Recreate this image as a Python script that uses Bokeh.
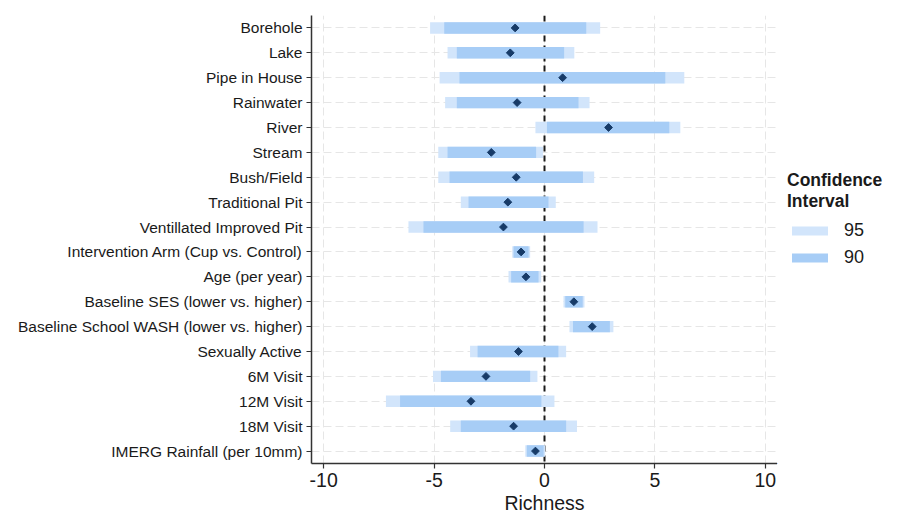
import math
from bokeh.plotting import figure
from bokeh.layouts import row
from bokeh.models import (FactorRange, Range1d, Span, Legend, LegendItem, FixedTicker,
                          ColumnDataSource)
from bokeh.embed import file_html
from bokeh.resources import INLINE

labels = ["Borehole", "Lake", "Pipe in House", "Rainwater", "River", "Stream",
          "Bush/Field", "Traditional Pit", "Ventillated Improved Pit",
          "Intervention Arm (Cup vs. Control)", "Age (per year)",
          "Baseline SES (lower vs. higher)", "Baseline School WASH (lower vs. higher)",
          "Sexually Active", "6M Visit", "12M Visit", "18M Visit",
          "IMERG Rainfall (per 10mm)"]
est = [-1.33, -1.55, 0.82, -1.24, 2.90, -2.41, -1.28, -1.66, -1.86,
       -1.06, -0.84, 1.33, 2.16, -1.18, -2.65, -3.33, -1.40, -0.41]
lo95 = [-5.18, -4.39, -4.75, -4.50, -0.41, -4.81, -4.81, -3.79, -6.16,
        -1.46, -1.63, 0.86, 1.13, -3.37, -5.05, -7.18, -4.27, -0.87]
hi95 = [2.52, 1.35, 6.33, 2.04, 6.15, -0.07, 2.25, 0.51, 2.40,
        -0.65, -0.15, 1.81, 3.12, 0.98, -0.32, 0.45, 1.47, 0.03]
lo90 = [-4.54, -3.97, -3.85, -3.97, 0.11, -4.39, -4.30, -3.44, -5.48,
        -1.40, -1.51, 0.94, 1.29, -3.03, -4.69, -6.54, -3.79, -0.80]
hi90 = [1.89, 0.89, 5.47, 1.54, 5.65, -0.38, 1.74, 0.18, 1.77,
        -0.72, -0.27, 1.73, 2.96, 0.63, -0.65, -0.14, 0.98, -0.04]
x_ticks = [-10, -5, 0, 5, 10]
legend_labels = ["95", "90"]
legend_title = "Confidence\nInterval"

C95 = "#d2e5fb"
C90 = "#a7cdf6"
CPT = "#173b68"
FONT = "Liberation Sans"

src = ColumnDataSource(dict(y=labels, est=est, lo95=lo95, hi95=hi95, lo90=lo90, hi90=hi90))

p = figure(width=777, height=516, output_backend="svg", toolbar_location=None,
           y_range=FactorRange(factors=list(reversed(labels))),
           x_range=Range1d(-10.55, 10.55),
           min_border_left=311, min_border_right=0, min_border_top=15, min_border_bottom=48)
p.outline_line_color = None

p.xaxis.ticker = FixedTicker(ticks=x_ticks)
p.xaxis.major_label_overrides = {t: str(t) for t in x_ticks}
for g in (p.xgrid, p.ygrid):
    g.grid_line_color = "#e6e6e6"
    g.grid_line_dash = "8 4"
    g.grid_line_width = 1

zero = Span(location=0, dimension="height", line_color="#1a1a1a", line_width=2,
            line_dash="6 4", level="underlay")
p.add_layout(zero)

p.hbar(y="y", left="lo95", right="hi95", height=0.46, source=src,
       fill_color=C95, line_color=None)
p.hbar(y="y", left="lo90", right="hi90", height=0.46, source=src,
       fill_color=C90, line_color=None)
p.scatter(x="est", y="y", source=src, marker="square", angle=math.pi / 4, size=5.5,
          fill_color=CPT, line_color=CPT)

for ax in (p.xaxis, p.yaxis):
    ax.axis_line_color = "#333333"
    ax.axis_line_width = 1.5
    ax.major_tick_line_color = "#333333"
    ax.major_tick_line_width = 1.2
    ax.major_tick_in = 0
    ax.major_tick_out = 5
    ax.minor_tick_line_color = None
    ax.major_label_text_font = FONT
    ax.major_label_text_color = "#1a1a1a"

p.yaxis.major_label_text_font_size = "15.5px"
p.yaxis.major_label_standoff = 4
p.xaxis.major_label_text_font_size = "19.5px"
p.xaxis.major_label_standoff = 4
p.xaxis.axis_label = "Richness"
p.xaxis.axis_label_text_font = FONT
p.xaxis.axis_label_text_font_style = "normal"
p.xaxis.axis_label_text_font_size = "19.5px"
p.xaxis.axis_label_text_color = "#1a1a1a"
p.xaxis.axis_label_standoff = 2

# legend panel: its glyphs use the same data but lie outside this panel's view
lf = figure(width=106, height=516, output_backend="svg", toolbar_location=None,
            x_range=Range1d(100, 101), y_range=Range1d(100, 101), min_border=0)
lf.axis.visible = False
lf.grid.visible = False
lf.outline_line_color = None
d95 = lf.hbar(y="est", left="lo95", right="hi95", height=0.1, source=src,
              fill_color=C95, line_color=None)
d90 = lf.hbar(y="est", left="lo90", right="hi90", height=0.1, source=src,
              fill_color=C90, line_color=None)

legend = Legend(items=[LegendItem(label=legend_labels[0], renderers=[d95]),
                       LegendItem(label=legend_labels[1], renderers=[d90])],
                title=legend_title, location=(10, 195))
legend.title_text_font = FONT
legend.title_text_font_style = "bold"
legend.title_text_font_size = "17.5px"
legend.title_text_color = "#1a1a1a"
legend.title_standoff = 8
legend.label_text_font = FONT
legend.label_text_font_size = "18px"
legend.label_text_color = "#1a1a1a"
legend.glyph_width = 45
legend.glyph_height = 11
legend.label_standoff = 12
legend.spacing = 6
legend.padding = 0
legend.margin = 0
legend.border_line_color = None
legend.background_fill_alpha = 0
lf.add_layout(legend)

layout = row(p, lf)
open("out.html", "w").write(file_html(layout, INLINE))
